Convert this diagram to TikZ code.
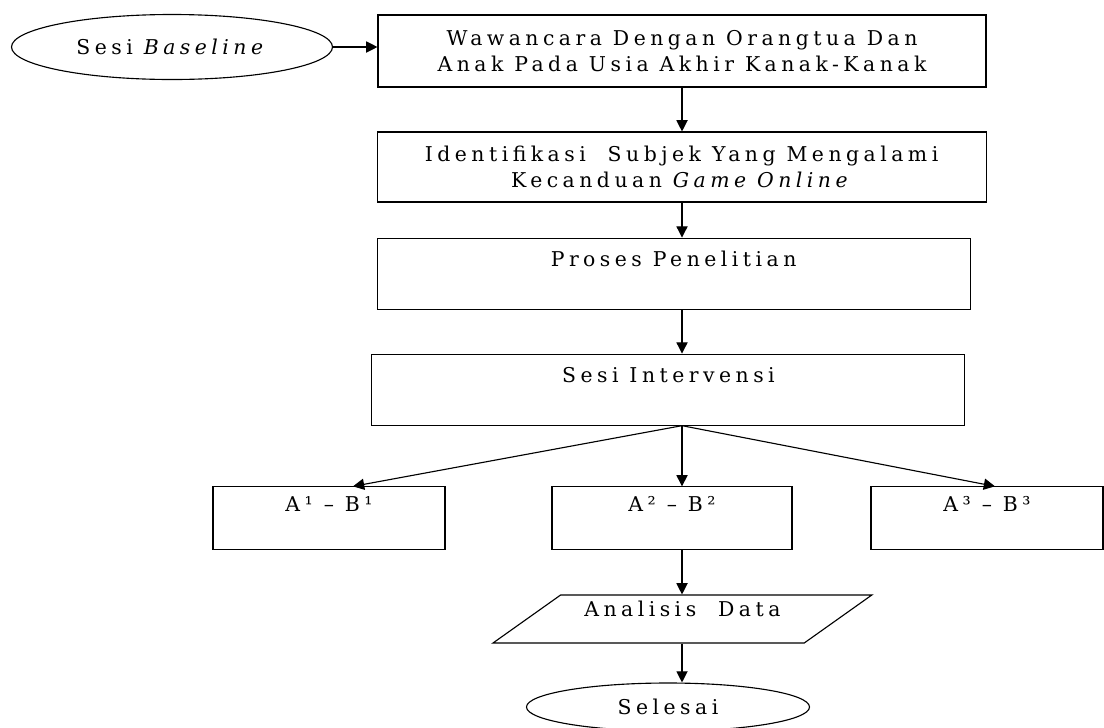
\documentclass[tikz,border=0pt]{standalone}
\usepackage{fontspec}
\setmainfont{DejaVu Serif}[LetterSpace=22]
\usetikzlibrary{arrows.meta}
\usetikzlibrary{calc}
\usetikzlibrary{shapes.geometric}

\tikzset{
  txt/.style={font=\fontsize{14.5}{18.5}\selectfont},
  box/.style={draw, rectangle, align=center, inner sep=0pt, txt},
  single/.style={text height=0.35cm, text depth=0.7cm},
  oval/.style={draw, ellipse, inner sep=0pt, txt},
  arr/.style={-{Triangle[length=0.28cm,width=0.28cm]}},
}

\begin{document}
\begin{tikzpicture}[line width=0.8pt]
    \useasboundingbox (0,0) rectangle (27.6,-18.175);
    \coordinate (spine) at (17.05,0);
    \node[oval, minimum width=8.025cm, minimum height=1.625cm] (base) at (4.3,-1.175) {Sesi \textit{Baseline}};
    \node[box, minimum width=15.2cm, minimum height=1.8cm] (wawan) at (17.05,-1.275)
      {Wawancara Dengan Orangtua Dan\\Anak Pada Usia Akhir Kanak-Kanak};
    \node[box, minimum width=15.225cm, minimum height=1.75cm] (ident) at (17.04,-4.175)
      {Identifikasi\ \ Subjek Yang Mengalami\\Kecanduan \textit{Game Online}};
    \node[box, single, minimum width=14.825cm, minimum height=1.775cm] (proses) at (16.84,-6.84) {Proses Penelitian};
    \node[box, single, minimum width=14.825cm, minimum height=1.775cm] (sesi) at (16.71,-9.74) {Sesi Intervensi};
    \node[box, single, minimum width=5.8cm, minimum height=1.575cm] (ab1) at (8.225,-12.96) {A¹ – B¹};
    \node[box, single, minimum width=6cm, minimum height=1.575cm] (ab2) at (16.8,-12.96) {A² – B²};
    \node[box, single, minimum width=5.8cm, minimum height=1.575cm] (ab3) at (24.675,-12.96) {A³ – B³};
    \node[draw, trapezium, trapezium left angle=32, trapezium right angle=148, trapezium stretches=true,
      minimum width=9.475cm, minimum height=1.2cm, inner sep=0pt, txt, text height=0.35cm, text depth=0.5cm]
      (analisis) at (17.06,-15.475) {Analisis\ \ Data};
    \node[oval, minimum width=7.075cm, minimum height=1.2cm] (selesai) at (16.7,-17.675) {Selesai};
    \draw[arr] (base.east) -- (base.east -| wawan.west);
    \draw[arr] (wawan.south -| spine) -- (ident.north -| spine);
    \draw[arr] (ident.south -| spine) -- (proses.north -| spine);
    \draw[arr] (proses.south -| spine) -- (sesi.north -| spine);
    \coordinate (fan) at (sesi.south -| spine);
    \draw[arr] (fan) -- ($(ab1.north)+(0.6,0)$);
    \draw[arr] (fan) -- (ab2.north -| spine);
    \draw[arr] (fan) -- ($(ab3.north)+(0.2,0)$);
    \draw[arr] (ab2.south -| spine) -- (analisis.north -| spine);
    \draw[arr] (analisis.south -| spine) -- (selesai.north -| spine);
\end{tikzpicture}
\end{document}
